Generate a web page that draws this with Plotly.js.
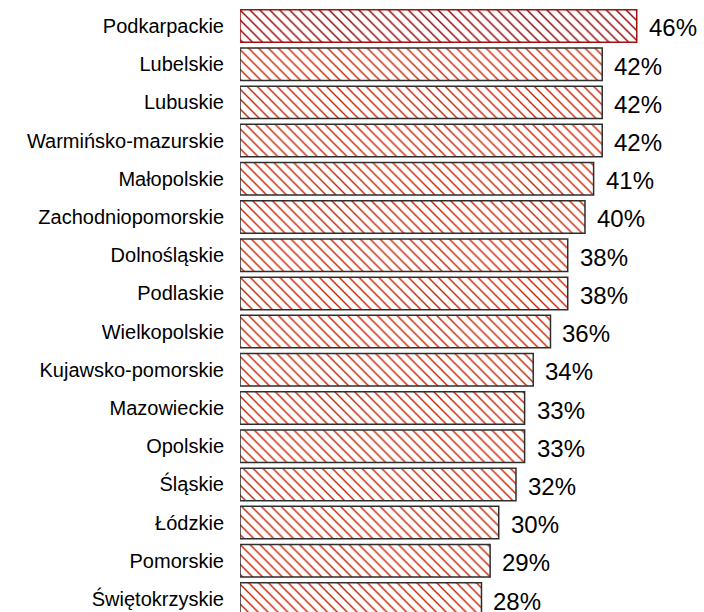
<!DOCTYPE html>
<html>
<head>
<meta charset="utf-8">
<script src="https://cdn.plot.ly/plotly-3.0.1.min.js"></script>
<style>html,body{margin:0;padding:0;background:#fff;}#chart{width:704px;height:612px;}</style>
</head>
<body>
<div id="chart"></div>
<script>
const regions = ["Podkarpackie","Lubelskie","Lubuskie","Warmińsko-mazurskie","Małopolskie","Zachodniopomorskie","Dolnośląskie","Podlaskie","Wielkopolskie","Kujawsko-pomorskie","Mazowieckie","Opolskie","Śląskie","Łódzkie","Pomorskie","Świętokrzyskie"];
const shares = [46,42,42,42,41,40,38,38,36,34,33,33,32,30,29,28];
const valueLabels = ["46%","42%","42%","42%","41%","40%","38%","38%","36%","34%","33%","33%","32%","30%","29%","28%"];

const hatchColors = regions.map((r,i) => i === 0 ? "#8b0000" : "#c82000");
const outlineColors = regions.map((r,i) => i === 0 ? "#a01010" : "#2e2e2e");

const trace = {
  type: "bar",
  orientation: "h",
  x: shares,
  y: regions,
  marker: {
    color: "#ffffff",
    pattern: { shape: "\\", fgcolor: hatchColors, bgcolor: "#ffffff", fgopacity: 1, size: 7, solidity: 0.2, fillmode: "replace" },
    line: { color: outlineColors, width: 1.5 }
  },
  hoverinfo: "none"
};

const annotations = regions.map((r,i) => ({
  x: shares[i], y: r, xref: "x", yref: "y",
  text: valueLabels[i], showarrow: false,
  xanchor: "left", yanchor: "middle", xshift: 10, yshift: -2,
  font: { family: "Liberation Sans, Arial, sans-serif", size: 24, color: "#000" }
}));

const layout = {
  width: 704, height: 612,
  margin: { l: 240, r: 0, t: 0, b: 0, pad: 0 },
  paper_bgcolor: "#ffffff", plot_bgcolor: "#ffffff",
  bargap: 0.15,
  showlegend: false,
  xaxis: { visible: false, range: [0, 53.8], fixedrange: true },
  yaxis: {
    type: "category", categoryorder: "array", categoryarray: regions,
    range: [15.34, -0.68],
    showgrid: false, zeroline: false, showline: false, ticks: "",
    ticklabelstandoff: 15,
    tickfont: { family: "Liberation Sans, Arial, sans-serif", size: 20, color: "#000" }
  },
  annotations: annotations
};

Plotly.newPlot("chart", [trace], layout, { displayModeBar: false, staticPlot: true });
</script>
</body>
</html>
